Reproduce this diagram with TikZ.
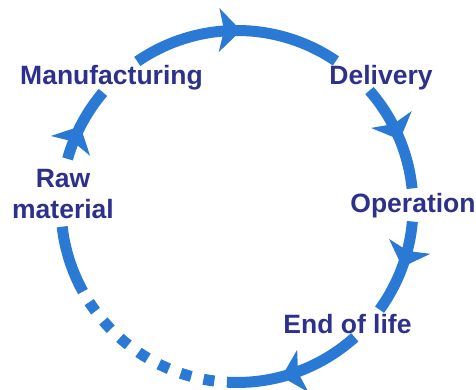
\documentclass[tikz,border=0pt]{standalone}
\usepackage{fontspec}
\setmainfont{Liberation Sans}
\definecolor{ringblue}{RGB}{42,122,213}
\definecolor{labelnavy}{RGB}{46,49,140}
\begin{document}
\begin{tikzpicture}[x=1pt,y=1pt,
  ring/.style={draw=ringblue, line width=11pt},
  dashring/.style={ring, dash pattern=on 11pt off 12.6pt, dash phase=11pt},
  stagetext/.style={text=labelnavy, font=\fontsize{26.5}{31}\selectfont\bfseries, inner sep=0pt, anchor=base, align=center},
  ringtip/.pic={\fill[ringblue] (1,0)--(-21,22)--(-16,0)--(-21,-22)--cycle;}
]
\useasboundingbox[fill=white] (0,0) rectangle (476,389);
\coordinate (C) at (237,182.5);
% ring segments (clockwise)
\draw[ring] (C) ++(124.5:176) arc[start angle=124.5, end angle=55.8, radius=176];
\draw[ring] (C) ++(41.2:176) arc[start angle=41.2, end angle=5.9, radius=176];
\draw[ring] (C) ++(-4.9:176) arc[start angle=-4.9, end angle=-35.9, radius=176];
\draw[ring] (C) ++(-48:176) arc[start angle=-48, end angle=-93.3, radius=176];
\draw[dashring] (C) ++(-93.3:176) arc[start angle=-93.3, end angle=-151.1, radius=176];
\draw[ring] (C) ++(-151.1:176) arc[start angle=-151.1, end angle=-173.4, radius=176];
\draw[ring] (C) ++(164.3:176) arc[start angle=164.3, end angle=139.6, radius=176];
% arrowheads
\path (C) ++(89:176) pic[rotate=-1] {ringtip};
\path (C) ++(22.6:176) pic[rotate=-67.4] {ringtip};
\path (C) ++(-19.8:176) pic[rotate=-109.8] {ringtip};
\path (C) ++(-75:176) pic[rotate=-165] {ringtip};
\path (C) ++(153.2:176) pic[rotate=63.2] {ringtip};
% labels
\node[stagetext] (manu) at (111.5,304) {Manufacturing};
\node[stagetext] (deliv) at (381,304) {Delivery};
\node[stagetext] (raw) at (63,171) {Raw\\material};
\node[stagetext] (oper) at (413,176.5) {Operation};
\node[stagetext] (eol) at (347.5,56) {End of life};
\end{tikzpicture}
\end{document}
